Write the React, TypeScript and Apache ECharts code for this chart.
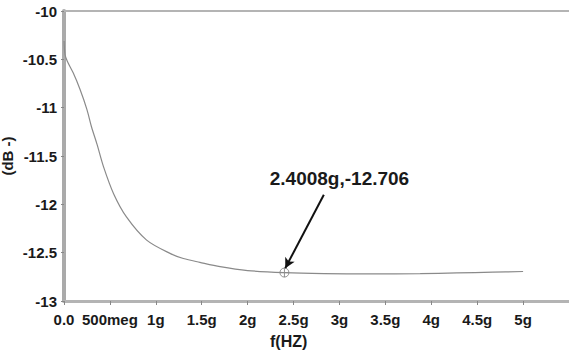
import React, { useEffect, useRef } from "react";
import * as echarts from "echarts";

const freqG = [0.001, 0.011, 0.036, 0.1, 0.174, 0.25, 0.3, 0.36, 0.43, 0.54, 0.68, 0.9, 1.16, 1.3, 1.48, 1.7, 2.0, 2.4, 2.83, 3.33, 3.88, 4.28, 4.67, 5.0];
const dB = [-10.31, -10.45, -10.52, -10.64, -10.81, -11.02, -11.2, -11.38, -11.61, -11.89, -12.13, -12.37, -12.51, -12.56, -12.6, -12.645, -12.685, -12.706, -12.716, -12.72, -12.716, -12.71, -12.702, -12.695];
const xTickLabels: Record<string, string> = {
  "0": "0.0", "0.5": "500meg", "1": "1g", "1.5": "1.5g", "2": "2g", "2.5": "2.5g",
  "3": "3g", "3.5": "3.5g", "4": "4g", "4.5": "4.5g", "5": "5g", "5.5": "",
};
const markerPoint = [2.4008, -12.706];
const markerText = "2.4008g,-12.706";
const arrowFrom = [2.83, -11.9];
const arrowTo = [2.41, -12.66];
const labelAt = [3.0, -11.73];

export default function App() {
  const ref = useRef<HTMLDivElement>(null);
  useEffect(() => {
    const chart = echarts.init(ref.current!, null, { renderer: "svg" });
    const font = "'Liberation Sans', Arial, sans-serif";
    chart.setOption({
      animation: false,
      backgroundColor: "#fff",
      grid: { left: 64, right: 0, top: 11, bottom: 56, containLabel: false, outerBoundsMode: "none" },
      xAxis: [
        {
          type: "value", min: 0, max: 5.5, interval: 0.5,
          axisLine: { show: true, lineStyle: { color: "#b4b4b4", width: 3 } },
          axisTick: { show: true, length: 4, lineStyle: { color: "#888" } },
          splitLine: { show: false },
          axisLabel: {
            margin: 11, fontFamily: font, fontWeight: "bold", fontSize: 15, color: "#1a1a1a",
            formatter: (v: number) => xTickLabels[String(v)] ?? "",
          },
        },
        {
          type: "value", min: 0, max: 5.5, position: "top",
          axisLine: { show: true, lineStyle: { color: "#b4b4b4", width: 2 } },
          axisTick: { show: false }, axisLabel: { show: false }, splitLine: { show: false },
        },
      ],
      yAxis: {
        type: "value", min: -13, max: -10, interval: 0.5,
        name: "(dB -)", nameLocation: "middle", nameGap: 49, nameMoveOverlap: false,
        nameTextStyle: { fontFamily: font, fontWeight: "bold", fontSize: 15, color: "#1a1a1a" },
        axisLine: { show: true, lineStyle: { color: "#aaa", width: 4 } },
        axisTick: { show: true, length: 3, lineStyle: { color: "#888" } },
        splitLine: { show: false },
        axisLabel: {
          margin: 7, fontFamily: font, fontWeight: "bold", fontSize: 15, color: "#1a1a1a",
          formatter: (v: number) => String(v),
        },
      },
      graphic: [
        {
          type: "text", left: 270, top: 333,
          style: { text: "f(HZ)", font: `bold 16px ${font}`, fill: "#1a1a1a" },
        },
      ],
      series: [
        {
          type: "line", data: freqG.map((f, i) => [f, dB[i]]), smooth: 0.3,
          showSymbol: false, lineStyle: { color: "#8a8a8a", width: 1.2 },
        },
        {
          type: "scatter", data: [markerPoint], symbolSize: 9,
          symbol: "path://M0,-4A4,4 0 1,1 0,4A4,4 0 1,1 0,-4ZM-4,0L4,0M0,-4L0,4",
          itemStyle: { color: "none", borderColor: "#777", borderWidth: 1 },
          markLine: {
            silent: true, symbolSize: [8, 10],
            lineStyle: { color: "#111", width: 2, type: "solid" },
            label: { show: false },
            data: [[
              { coord: arrowFrom, symbol: "none" },
              { coord: arrowTo, symbol: "arrow" },
            ]],
          },
          markPoint: {
            symbol: "circle", symbolSize: 0,
            label: {
              show: true, formatter: markerText, fontFamily: font, fontWeight: "bold",
              fontSize: 19, color: "#1a1a1a",
            },
            data: [{ coord: labelAt }],
          },
        },
      ],
    });
    return () => chart.dispose();
  }, []);
  return <div ref={ref} style={{ width: 569, height: 357, position: "absolute", left: 0, top: 0 }} />;
}
